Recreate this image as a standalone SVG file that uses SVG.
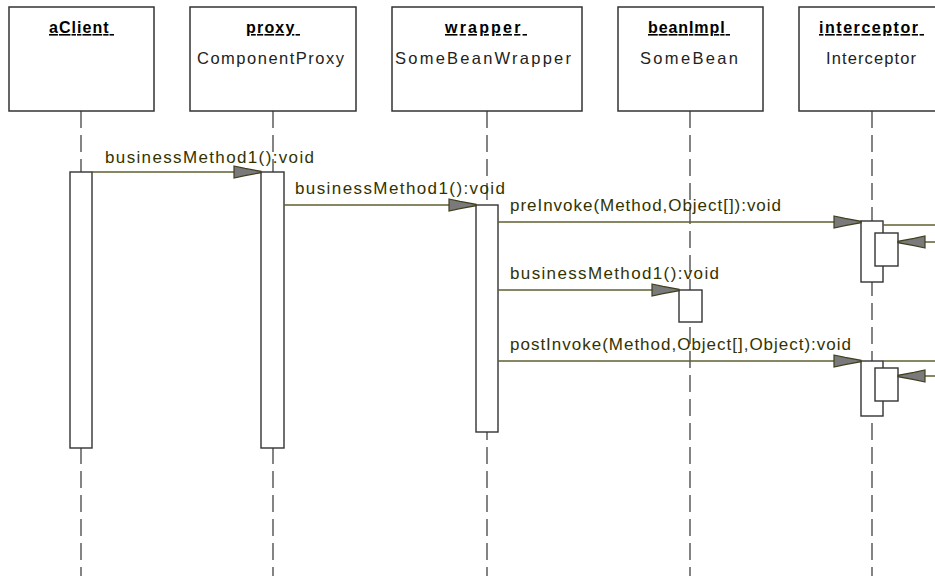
<svg xmlns="http://www.w3.org/2000/svg" width="935" height="576" viewBox="0 0 935 576">
<style>
.box{fill:#fff;stroke:#333;stroke-width:1.5}
.act{fill:#fff;stroke:#333;stroke-width:1.4}
.life{stroke:#333;stroke-width:1.2;stroke-dasharray:17 7;fill:none}
.hd{font-family:"Liberation Sans",Arial,sans-serif;font-size:16px;font-weight:bold;fill:#000;text-decoration:underline}
.cls{font-family:"Liberation Sans",Arial,sans-serif;font-size:16.5px;fill:#222}
.msg{stroke:#5f5f30;stroke-width:1.3;fill:none;marker-end:url(#ah)}
.out{stroke:#5f5f30;stroke-width:1.3;fill:none}
.lbl{font-family:"Liberation Sans",Arial,sans-serif;font-size:17px;fill:#333300}
</style>
<defs>
<marker id="ah" markerUnits="userSpaceOnUse" markerWidth="30" markerHeight="16" viewBox="-1 -1 30 14" refX="27" refY="6" orient="auto">
<path d="M0,0 L11,2.4 L27,5.3 L27,6.7 L11,9.6 L0,12 Z" fill="#7a7a7a" stroke="#3f3f1f" stroke-width="1.2"/>
</marker>
</defs>
<rect width="935" height="576" fill="#fff"/>
<g id="aClient">
<line class="life" x1="81" y1="111" x2="81" y2="576"/>
<rect class="box" x="9" y="7" width="145" height="104"/>
<text class="hd" x="49" y="33" textLength="65" lengthAdjust="spacing">aClient&#160;</text>
<rect class="act" x="70" y="172" width="22" height="276"/>
</g>
<g id="proxy">
<line class="life" x1="273" y1="111" x2="273" y2="576"/>
<rect class="box" x="190" y="7" width="166" height="104"/>
<text class="hd" x="246" y="33" textLength="54" lengthAdjust="spacing">proxy&#160;</text>
<text class="cls" x="197" y="64" textLength="147" lengthAdjust="spacing">ComponentProxy</text>
<rect class="act" x="261" y="172" width="23" height="276"/>
</g>
<g id="wrapper">
<line class="life" x1="487" y1="111" x2="487" y2="576"/>
<rect class="box" x="392" y="7" width="190" height="104"/>
<text class="hd" x="445" y="33" textLength="82" lengthAdjust="spacing">wrapper&#160;</text>
<text class="cls" x="395" y="64" textLength="176" lengthAdjust="spacing">SomeBeanWrapper</text>
<rect class="act" x="476" y="205" width="22" height="227"/>
</g>
<g id="beanImpl">
<line class="life" x1="690" y1="111" x2="690" y2="576"/>
<rect class="box" x="618" y="7" width="145" height="104"/>
<text class="hd" x="648" y="33" textLength="82" lengthAdjust="spacing">beanImpl&#160;</text>
<text class="cls" x="640" y="64" textLength="98" lengthAdjust="spacing">SomeBean</text>
<rect class="act" x="679" y="290" width="23" height="32"/>
</g>
<g id="interceptor">
<line class="life" x1="872" y1="111" x2="872" y2="576"/>
<rect class="box" x="799" y="7" width="145" height="104"/>
<text class="hd" x="819" y="33" textLength="105" lengthAdjust="spacing">interceptor&#160;</text>
<text class="cls" x="826" y="64" textLength="90" lengthAdjust="spacing">Interceptor</text>
<rect class="act" x="861" y="221" width="22" height="61"/>
<rect class="act" x="875" y="233" width="23" height="33"/>
<rect class="act" x="861" y="361" width="22" height="55"/>
<rect class="act" x="875" y="368" width="23" height="33"/>
</g>
<g id="connectors">
<line class="msg" x1="92" y1="172" x2="261" y2="172"/>
<line class="msg" x1="284" y1="205" x2="476" y2="205"/>
<line class="msg" x1="498" y1="222" x2="861" y2="222"/>
<line class="msg" x1="498" y1="290" x2="679" y2="290"/>
<line class="msg" x1="498" y1="361" x2="861" y2="361"/>
<line class="out" x1="883" y1="225" x2="935" y2="225"/>
<line class="out" x1="883" y1="361" x2="935" y2="361"/>
<line class="msg" x1="940" y1="242" x2="898" y2="242"/>
<line class="msg" x1="940" y1="376" x2="898" y2="376"/>
<text class="lbl" x="105" y="163" textLength="209" lengthAdjust="spacing">businessMethod1():void</text>
<text class="lbl" x="295" y="194" textLength="210" lengthAdjust="spacing">businessMethod1():void</text>
<text class="lbl" x="510" y="211" textLength="271" lengthAdjust="spacing">preInvoke(Method,Object[]):void</text>
<text class="lbl" x="510" y="279" textLength="209" lengthAdjust="spacing">businessMethod1():void</text>
<text class="lbl" x="510" y="350" textLength="341" lengthAdjust="spacing">postInvoke(Method,Object[],Object):void</text>
</g>
</svg>
